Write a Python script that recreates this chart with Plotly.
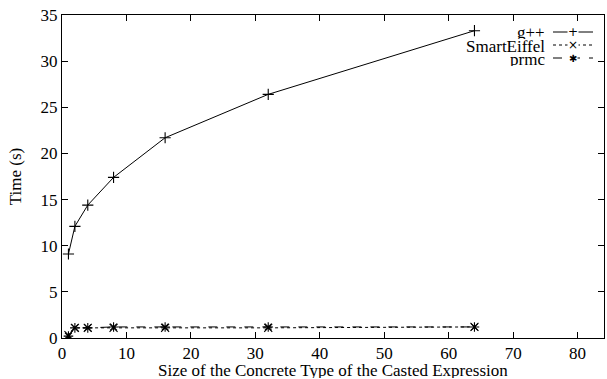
import plotly.graph_objects as go

sizes = [1, 2, 4, 8, 16, 32, 64]
gpp = [9.1, 12.1, 14.4, 17.4, 21.7, 26.4, 33.3]
smarteiffel = [0.3, 1.1, 1.1, 1.1, 1.1, 1.1, 1.2]
prmc = [0.2, 1.1, 1.1, 1.2, 1.2, 1.2, 1.2]
series_names = ["g++", "SmartEiffel", "prmc"]
x_ticks = [0, 10, 20, 30, 40, 50, 60, 70, 80]
y_ticks = [0, 5, 10, 15, 20, 25, 30, 35]

FONT = "Liberation Serif, Times New Roman, serif"
FS = 17
W, H = 607, 379
ML, MR, MT, MB = 62, 3, 15, 41

fig = go.Figure()
styles = [
    (gpp, "solid", "cross-thin"),
    (smarteiffel, "dot", "x-thin"),
    (prmc, "dash", "asterisk"),
]
for name, (vals, dash, sym) in zip(series_names, styles):
    fig.add_trace(go.Scatter(
        x=sizes, y=vals, name=name, mode="lines+markers",
        line=dict(color="black", width=1, dash=dash),
        marker=dict(symbol=sym, size=8, color="black",
                    line=dict(color="black", width=1.1)),
        showlegend=False,
    ))

# manual gnuplot-style legend (text right aligned, sample on the right)
leg_y = [32, 45, 58]
def px_to_paper_x(px):
    return (px - ML) / (W - ML - MR)
def px_to_paper_y(py):
    return 1 - (py - MT) / (H - MT - MB)

for name, (vals, dash, sym), py in zip(series_names, styles, leg_y):
    fig.add_annotation(
        x=px_to_paper_x(547), y=px_to_paper_y(py + 1), xref="paper", yref="paper",
        text=name, showarrow=False, xanchor="right", yanchor="middle",
        font=dict(family=FONT, size=FS, color="black"), height=13,
    )
    fig.add_shape(
        type="line", xref="paper", yref="paper",
        x0=px_to_paper_x(553), x1=px_to_paper_x(593),
        y0=px_to_paper_y(py), y1=px_to_paper_y(py),
        line=dict(color="black", width=1, dash=dash),
    )
    glyph = {"cross-thin": "+", "x-thin": "×", "asterisk": "✱"}[sym]
    fig.add_annotation(
        x=px_to_paper_x(573), y=px_to_paper_y(py), xref="paper", yref="paper",
        text=glyph, showarrow=False, xanchor="center", yanchor="middle",
        font=dict(family="DejaVu Sans", size=12 if sym != "asterisk" else 10, color="black"),
        bgcolor="white", borderpad=0, height=10,
    )

# x axis title placed as annotation for exact vertical placement
fig.add_annotation(
    x=0.5, y=px_to_paper_y(370), xref="paper", yref="paper",
    text="Size of the Concrete Type of the Casted Expression", showarrow=False,
    xanchor="center", yanchor="middle",
    font=dict(family=FONT, size=FS, color="black"), height=16,
)

axis_common = dict(
    showline=True, linecolor="black", linewidth=1, mirror="ticks",
    ticks="inside", ticklen=6, tickcolor="black", tickwidth=1,
    showgrid=False, zeroline=False,
    tickfont=dict(family=FONT, size=FS, color="black"),
)
fig.update_xaxes(range=[0, 84.1], tickvals=x_ticks, automargin=False, **axis_common)
fig.update_yaxes(range=[0, 35], tickvals=y_ticks,
                 title=dict(text="Time (s)", font=dict(family=FONT, size=FS, color="black"), standoff=14),
                 automargin=False, **axis_common)

fig.update_layout(
    width=W, height=H,
    margin=dict(l=ML, r=MR, t=MT, b=MB),
    paper_bgcolor="white", plot_bgcolor="white",
    font=dict(family=FONT, size=FS, color="black"),
)
fig.write_html("out.html", config={"displayModeBar": False},
               post_script="document.body.style.margin='0';document.body.style.padding='0';")
